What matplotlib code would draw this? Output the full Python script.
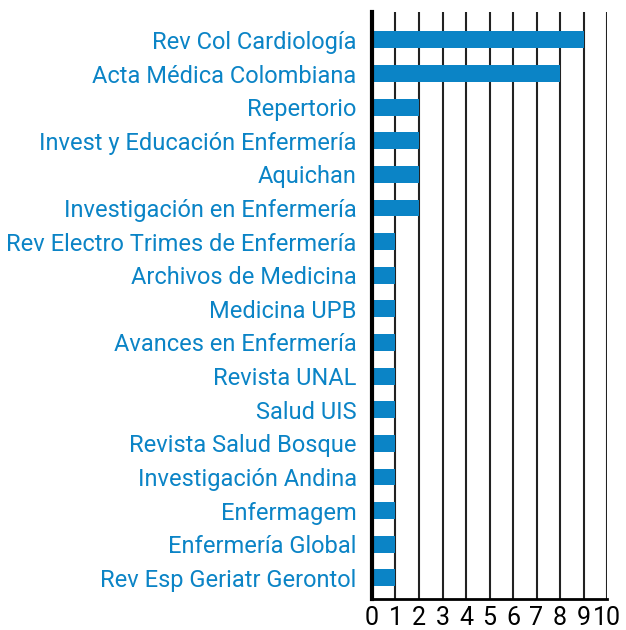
import numpy as np
import matplotlib.pyplot as plt
from matplotlib import font_manager

# journal names and counts, top to bottom
revistas = ["Rev Col Cardiología", "Acta Médica Colombiana", "Repertorio",
            "Invest y Educación Enfermería", "Aquichan", "Investigación en Enfermería",
            "Rev Electro Trimes de Enfermería", "Archivos de Medicina", "Medicina UPB",
            "Avances en Enfermería", "Revista UNAL", "Salud UIS", "Revista Salud Bosque",
            "Investigación Andina", "Enfermagem", "Enfermería Global",
            "Rev Esp Geriatr Gerontol"]
articulos = [9, 8, 2, 2, 2, 2, 1, 1, 1, 1, 1, 1, 1, 1, 1, 1, 1]
ticks = list(range(0, 11))

names = {f.name for f in font_manager.fontManager.ttflist}
fam = "Liberation Sans Narrow" if "Liberation Sans Narrow" in names else "Roboto"
plt.rcParams['font.family'] = [fam, 'DejaVu Sans']

azul = "#0b84c6"
fig = plt.figure(figsize=(6.26, 6.30), dpi=100)
ax = fig.add_axes([372/626, 1-599/630, 235/626, 587/630])

y = np.arange(len(revistas))
ax.barh(y, articulos, height=0.5, color=azul, zorder=3)
for t in ticks[1:]:
    ax.axvline(t, color="#222222", lw=1.5, zorder=1)

ax.set_xlim(0, 10)
ax.set_ylim(len(revistas) - 1 + 0.63, -0.83)
ax.set_xticks(ticks)
ax.set_xticklabels([str(t) for t in ticks], fontsize=18)
ax.set_yticks(y)
ax.set_yticklabels(revistas, fontsize=17, color=azul)
ax.tick_params(axis="x", length=0, pad=5)
ax.tick_params(axis="y", length=0, pad=11)
for s in ["top", "right"]:
    ax.spines[s].set_visible(False)
ax.spines["left"].set_linewidth(3)
ax.spines["bottom"].set_linewidth(2)
ax.spines["left"].set_zorder(4)

fig.savefig("out.png", dpi=100)
